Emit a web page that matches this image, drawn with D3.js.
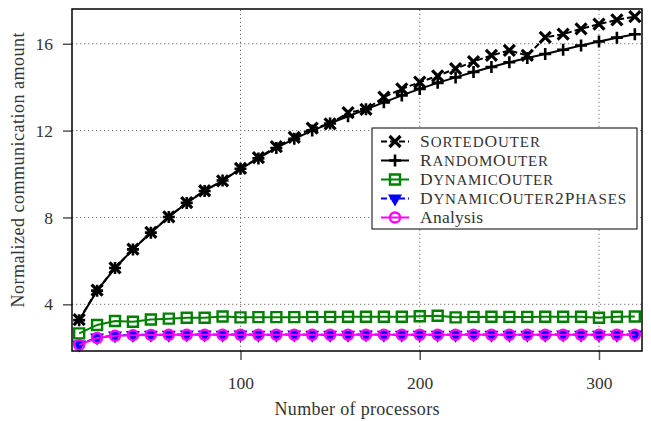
<!DOCTYPE html>
<html>
<head>
<meta charset="utf-8">
<script src="https://cdn.jsdelivr.net/npm/d3@7"></script>
<style>
  body { margin: 0; background: #fff; }
  svg text { font-family: "Liberation Serif", "DejaVu Serif", serif; fill: #333; }
</style>
</head>
<body>
<svg id="chart" width="651" height="421"></svg>
<script>
// processors on the x axis
const procs = [10, 20, 30, 40, 50, 60, 70, 80, 90, 100, 110, 120, 130, 140, 150, 160,
               170, 180, 190, 200, 210, 220, 230, 240, 250, 260, 270, 280, 290, 300, 310, 320];

const sortedOuter = [3.29, 4.65, 5.68, 6.54, 7.31, 8.03, 8.68, 9.23, 9.69, 10.26, 10.75, 11.26,
                     11.69, 12.11, 12.31, 12.83, 12.98, 13.54, 13.92, 14.23, 14.52, 14.85, 15.18,
                     15.46, 15.69, 15.46, 16.29, 16.44, 16.69, 16.90, 17.10, 17.25];
const randomOuter = [3.27, 4.63, 5.67, 6.53, 7.30, 8.02, 8.67, 9.22, 9.70, 10.24, 10.72, 11.20,
                     11.62, 12.00, 12.33, 12.66, 12.98, 13.30, 13.62, 13.92, 14.20, 14.45, 14.70,
                     14.93, 15.15, 15.34, 15.53, 15.72, 15.92, 16.10, 16.28, 16.44];
const dynamicOuter = [2.66, 3.05, 3.23, 3.20, 3.30, 3.34, 3.38, 3.38, 3.44, 3.40, 3.41, 3.41,
                      3.41, 3.42, 3.42, 3.43, 3.43, 3.43, 3.43, 3.45, 3.47, 3.40, 3.42, 3.43,
                      3.42, 3.42, 3.43, 3.43, 3.43, 3.38, 3.43, 3.44];
const dynamicOuter2Phases = [2.15, 2.47, 2.56, 2.59, 2.60, 2.60, 2.61, 2.61, 2.60, 2.61, 2.60, 2.60,
                             2.61, 2.60, 2.60, 2.60, 2.61, 2.60, 2.60, 2.60, 2.60, 2.60, 2.61, 2.60,
                             2.60, 2.60, 2.60, 2.61, 2.60, 2.60, 2.60, 2.61];
const analysis = [2.13, 2.45, 2.55, 2.58, 2.59, 2.60, 2.60, 2.60, 2.60, 2.60, 2.60, 2.60,
                  2.60, 2.60, 2.60, 2.60, 2.60, 2.60, 2.60, 2.60, 2.60, 2.60, 2.60, 2.60,
                  2.60, 2.60, 2.60, 2.60, 2.60, 2.60, 2.60, 2.60];

const xTicks = [100, 200, 300];
const yTicks = [4, 8, 12, 16];

const seriesNames = ["SortedOuter", "RandomOuter", "DynamicOuter", "DynamicOuter2Phases", "Analysis"];
const seriesValues = [sortedOuter, randomOuter, dynamicOuter, dynamicOuter2Phases, analysis];

// style per series (colour, dash, marker, legend text width)
const styles = [
  { color: "#000", dash: "6,3", marker: "x", caps: true, w: 120 },
  { color: "#000", dash: null, marker: "plus", caps: true, w: 128 },
  { color: "#008000", dash: null, marker: "square", caps: true, w: 133 },
  { color: "#0000ff", dash: "6,3", marker: "tri", caps: true, w: 206 },
  { color: "#ff00ff", dash: null, marker: "circle", caps: false, w: 63 }
];

const margin = { left: 72, top: 9, right: 9, bottom: 70 };
const width = 651, height = 421;
const svg = d3.select("#chart");

const x = d3.scaleLinear().domain([6, 324]).range([margin.left, width - margin.right]);
const y = d3.scaleLinear().domain([1.85, 17.6]).range([height - margin.bottom, margin.top]);

// grid
svg.append("g").selectAll("line").data(yTicks).join("line")
  .attr("x1", x.range()[0]).attr("x2", x.range()[1])
  .attr("y1", d => y(d)).attr("y2", d => y(d))
  .attr("stroke", "#777").attr("stroke-width", 1).attr("stroke-dasharray", "1.3,2.7");
svg.append("g").selectAll("line").data(xTicks).join("line")
  .attr("y1", y.range()[0]).attr("y2", y.range()[1])
  .attr("x1", d => x(d)).attr("x2", d => x(d))
  .attr("stroke", "#777").attr("stroke-width", 1).attr("stroke-dasharray", "1.3,2.7");

// axes
const xAxis = svg.append("g")
  .attr("transform", `translate(0,${y.range()[0]})`)
  .call(d3.axisBottom(x).tickValues(xTicks).tickSize(9).tickPadding(17));
const yAxis = svg.append("g")
  .attr("transform", `translate(${x.range()[0]},0)`)
  .call(d3.axisLeft(y).tickValues(yTicks).tickSize(9).tickPadding(10));
[xAxis, yAxis].forEach(a => {
  a.select(".domain").remove();
  a.selectAll(".tick line").attr("stroke", "#555").attr("stroke-width", 1.5);
  a.selectAll(".tick text").attr("font-size", 17.5).attr("font-family", "Liberation Serif").attr("fill", "#333");
});

function markerPath(type) {
  if (type === "x") return "M-5.5,-5.5L5.5,5.5M-5.5,5.5L5.5,-5.5";
  if (type === "plus") return "M-6,0L6,0M0,-6L0,6";
  if (type === "square") return "M-5,-5H5V5H-5Z";
  if (type === "tri") return "M-7,-4L7,-4L0,8Z";
  return d3.symbol(d3.symbolCircle, 80)();
}

function drawMarker(g, type, color) {
  const p = g.append("path").attr("d", markerPath(type));
  if (type === "tri") p.attr("fill", color).attr("stroke", "none");
  else p.attr("fill", "none").attr("stroke", color)
        .attr("stroke-width", type === "x" ? 3.2 : type === "plus" ? 2.6 : 2.4);
}

const line = d3.line().x((d, i) => x(procs[i])).y(d => y(d));

seriesValues.forEach((vals, k) => {
  const st = styles[k];
  const g = svg.append("g");
  g.append("path").datum(vals)
    .attr("d", line).attr("fill", "none")
    .attr("stroke", st.color).attr("stroke-width", 2)
    .attr("stroke-dasharray", st.dash);
  vals.forEach((v, i) => {
    drawMarker(g.append("g").attr("transform", `translate(${x(procs[i])},${y(v)})`), st.marker, st.color);
  });
});

// frame
svg.append("rect")
  .attr("x", x.range()[0]).attr("y", y.range()[1])
  .attr("width", x.range()[1] - x.range()[0]).attr("height", y.range()[0] - y.range()[1])
  .attr("fill", "none").attr("stroke", "#000").attr("stroke-width", 1.5);

// hand made small caps: capitals/digits full size, the rest upper-cased smaller
function smallCaps(text, name, size) {
  const runs = [];
  for (const ch of name) {
    const big = ch === ch.toUpperCase();
    if (runs.length && runs[runs.length - 1].big === big) runs[runs.length - 1].s += ch;
    else runs.push({ big, s: ch });
  }
  runs.forEach(r => {
    text.append("tspan").attr("font-size", r.big ? size : size * 0.86)
      .text(r.big ? r.s : r.s.toUpperCase());
  });
}

// legend
const lg = svg.append("g").attr("transform", "translate(372,128)");
lg.append("rect").attr("width", 265).attr("height", 101)
  .attr("fill", "#fff").attr("stroke", "#000").attr("stroke-width", 1);
seriesNames.forEach((name, k) => {
  const st = styles[k];
  const row = lg.append("g").attr("transform", `translate(0,${13.5 + k * 19})`);
  row.append("line").attr("x1", 9).attr("x2", 37).attr("y1", 0).attr("y2", 0)
    .attr("stroke", st.color).attr("stroke-width", 2).attr("stroke-dasharray", st.dash);
  drawMarker(row.append("g").attr("transform", "translate(23,0)"), st.marker, st.color);
  const t = row.append("text").attr("x", 48).attr("y", 5.5)
    .attr("font-size", 17.5)
    .attr("textLength", st.w).attr("lengthAdjust", "spacing");
  if (st.caps) smallCaps(t, name, 17.5);
  else t.text(name);
});

// axis titles
svg.append("text")
  .attr("x", (x.range()[0] + x.range()[1]) / 2).attr("y", 415)
  .attr("text-anchor", "middle").attr("font-size", 18)
  .attr("textLength", 165).attr("lengthAdjust", "spacing")
  .text("Number of processors");
svg.append("text")
  .attr("transform", "translate(24,170) rotate(-90)")
  .attr("text-anchor", "middle").attr("font-size", 18)
  .attr("textLength", 275).attr("lengthAdjust", "spacing")
  .text("Normalized communication amount");
</script>
</body>
</html>
